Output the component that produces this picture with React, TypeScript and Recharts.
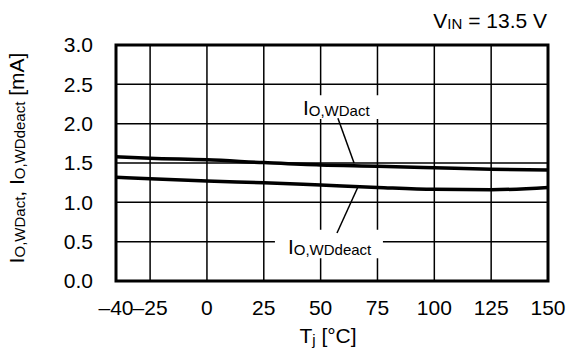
import React from 'react';
import { LineChart, Line, XAxis, YAxis, CartesianGrid, ReferenceArea, ReferenceLine, ReferenceDot } from 'recharts';

// junction temperature [°C]
const temps = [-40, -25, 0, 25, 50, 75, 100, 125, 150];
// I_O,WDact [mA]
const actValues = [1.58, 1.56, 1.54, 1.505, 1.475, 1.46, 1.44, 1.42, 1.41];
// I_O,WDdeact [mA]
const deactValues = [1.32, 1.30, 1.27, 1.25, 1.22, 1.19, 1.165, 1.16, 1.19];

const xTicks = [-40, -25, 0, 25, 50, 75, 100, 125, 150];
const yTicks = [0, 0.5, 1, 1.5, 2, 2.5, 3];

const data = temps.map((t, i) => ({ t, act: actValues[i], deact: deactValues[i] }));

const FONT = '"Liberation Sans", Arial, sans-serif';
const BIG = 21;
const SUB = 15;

const SubLabel = ({ cx, cy, main, sub }: any) => (
  <text x={cx} y={cy} fontFamily={FONT} fontSize={BIG} fill="#000">
    <tspan>{main}</tspan>
    <tspan fontSize={SUB} dy={1}>{sub}</tspan>
  </text>
);

const YLabel = ({ viewBox }: any) => {
  const cy = viewBox.y + viewBox.height / 2 - 5;
  const x = 24;
  return (
    <text x={x} y={cy} transform={`rotate(-90, ${x}, ${cy})`} textAnchor="middle" fontFamily={FONT} fontSize={BIG} fill="#000">
      <tspan>I</tspan>
      <tspan fontSize={SUB} dy={1}>O,WDact</tspan>
      <tspan dy={-1}>, I</tspan>
      <tspan fontSize={SUB} dy={1}>O,WDdeact</tspan>
      <tspan dy={-1}> [mA]</tspan>
    </text>
  );
};

const XLabel = ({ viewBox }: any) => {
  const cx = viewBox.x + viewBox.width / 2 - 4;
  return (
    <text x={cx} y={343} textAnchor="middle" fontFamily={FONT} fontSize={BIG} fill="#000">
      <tspan>T</tspan>
      <tspan fontSize={SUB} dy={2}>j</tspan>
      <tspan dy={-2}> [°C]</tspan>
    </text>
  );
};

const fmt = (v: number) => (v < 0 ? `\u2013${Math.abs(v)}` : `${v}`);

export default function App() {
  return (
    <div style={{ position: 'absolute', left: 0, top: 0, width: 569, height: 351, background: '#fff' }}>
      <LineChart width={569} height={351} data={data} margin={{ top: 45, right: 21, bottom: 40, left: 56 }}>
        <CartesianGrid stroke="#000" strokeWidth={1.5} strokeOpacity={1} />
        <XAxis
          dataKey="t"
          type="number"
          domain={[-40, 150]}
          ticks={xTicks}
          interval={0}
          tickFormatter={fmt}
          height={30}
          axisLine={false}
          tickLine={false}
          tickSize={0}
          tickMargin={19}
          tick={{ fill: '#000', fontSize: BIG, fontFamily: FONT }}
          label={{ content: <XLabel /> }}
        />
        <YAxis
          type="number"
          domain={[0, 3]}
          ticks={yTicks}
          interval={0}
          tickFormatter={(v: number) => v.toFixed(1)}
          width={60}
          axisLine={false}
          tickLine={false}
          tickSize={0}
          tickMargin={23}
          tick={{ fill: '#000', fontSize: BIG, fontFamily: FONT }}
          label={{ content: <YLabel /> }}
        />
        {/* white boxes behind the curve labels */}
        <ReferenceArea x1={40.9} x2={76.1} y1={2.06} y2={2.36} fill="#fff" fillOpacity={1} stroke="none" />
        <ReferenceArea x1={29.9} x2={77.4} y1={0.29} y2={0.65} fill="#fff" fillOpacity={1} stroke="none" />
        <ReferenceArea x1={-40} x2={150} y1={0} y2={3} fill="none" stroke="#000" strokeWidth={3} ifOverflow="visible" />
        <Line dataKey="act" type="monotone" stroke="#000" strokeWidth={3.5} dot={false} isAnimationActive={false} />
        <Line dataKey="deact" type="monotone" stroke="#000" strokeWidth={3.5} dot={false} isAnimationActive={false} />
        {/* leader lines */}
        <ReferenceLine segment={[{ x: 57.6, y: 2.07 }, { x: 64.7, y: 1.5 }]} stroke="#000" strokeWidth={1.5} />
        <ReferenceLine segment={[{ x: 66.4, y: 1.195 }, { x: 57.2, y: 0.61 }]} stroke="#000" strokeWidth={1.5} />
        <ReferenceDot x={42.2} y={2.11} r={0} shape={(p: any) => <SubLabel {...p} main="I" sub="O,WDact" />} />
        <ReferenceDot x={35.6} y={0.343} r={0} shape={(p: any) => <SubLabel {...p} main="I" sub="O,WDdeact" />} />
        <ReferenceDot
          x={150}
          y={3}
          r={0}
          ifOverflow="visible"
          shape={(p: any) => (
            <text x={p.cx - 1} y={p.cy - 17} textAnchor="end" fontFamily={FONT} fontSize={BIG} fill="#000">
              <tspan>V</tspan>
              <tspan fontSize={SUB} dy={1}>IN</tspan>
              <tspan dy={-1}> = 13.5 V</tspan>
            </text>
          )}
        />
      </LineChart>
    </div>
  );
}
